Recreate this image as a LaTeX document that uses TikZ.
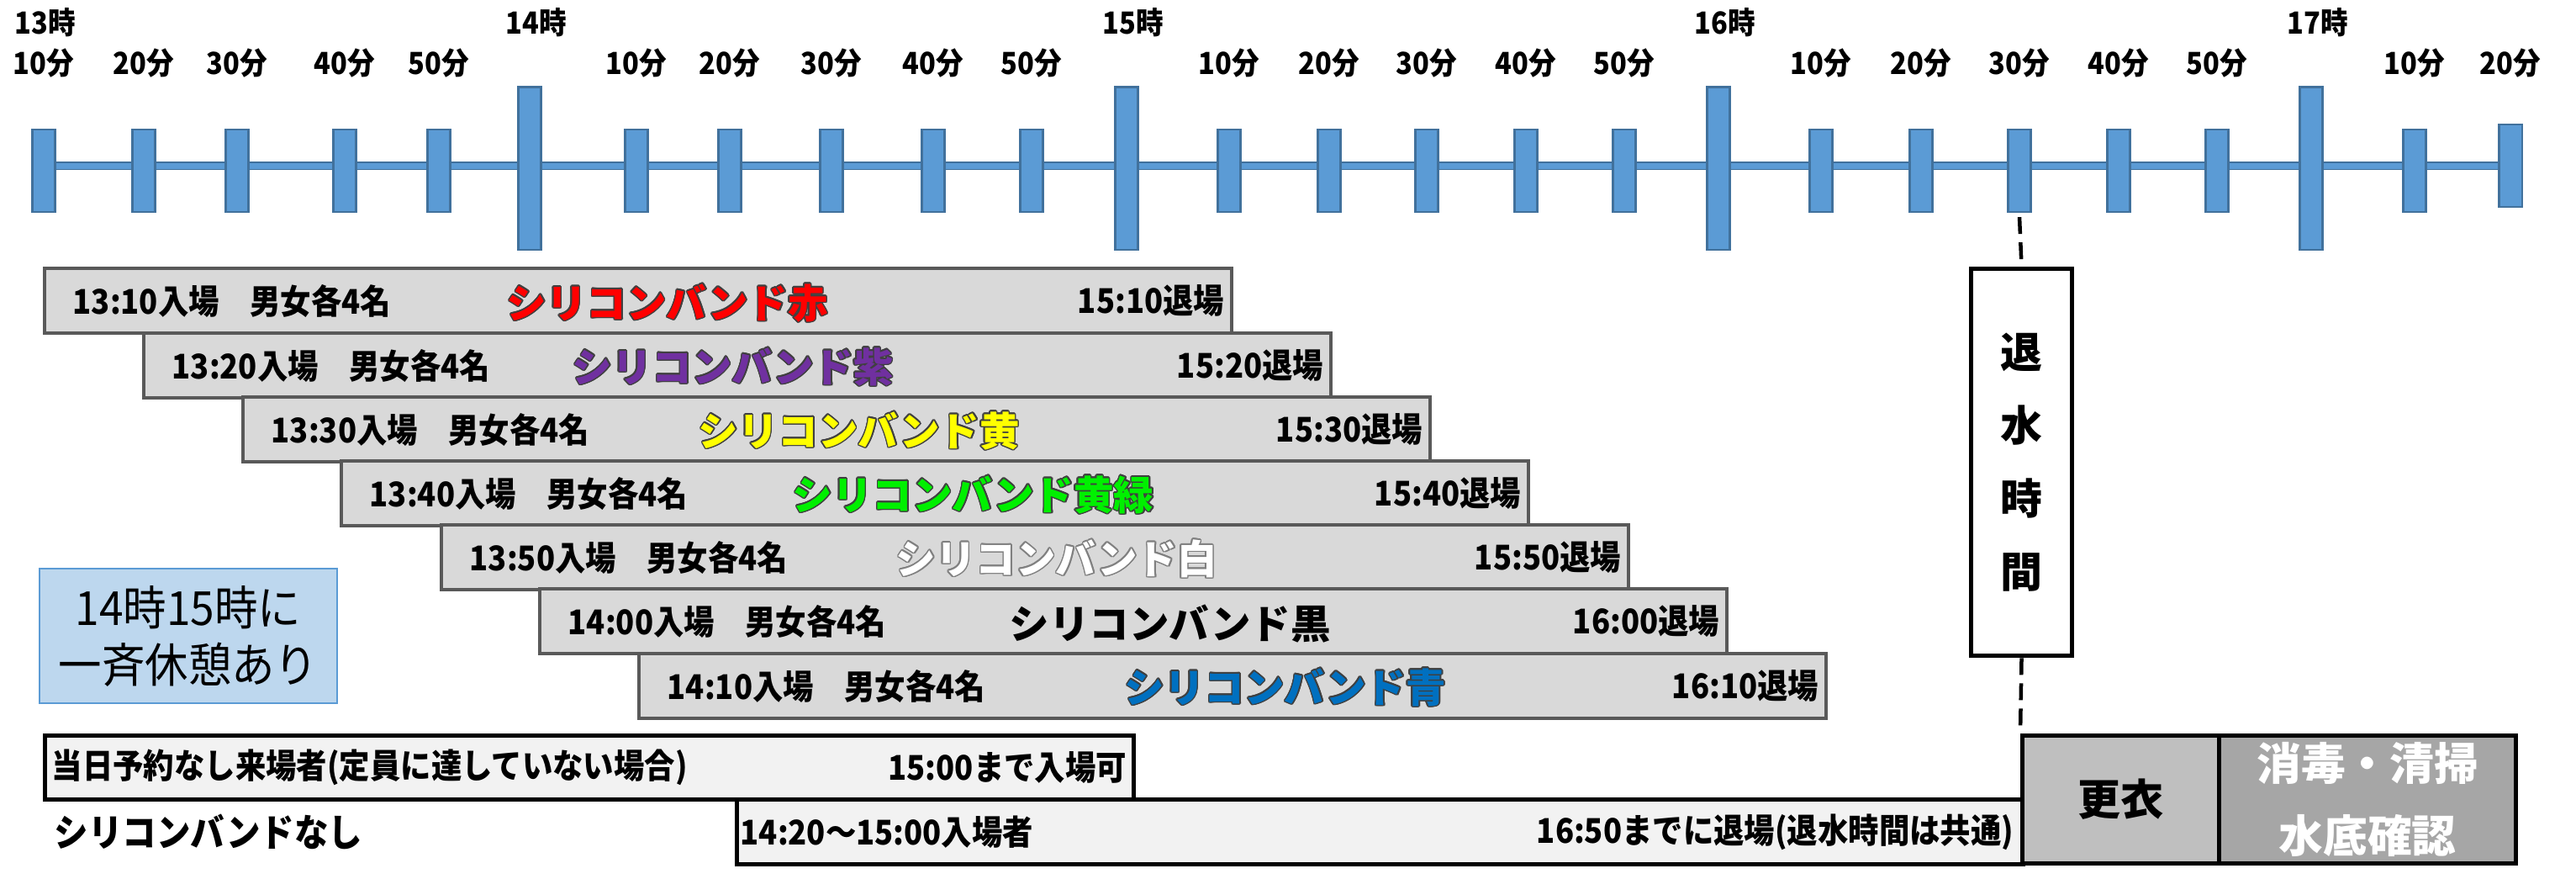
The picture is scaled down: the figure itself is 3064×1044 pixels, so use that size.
\documentclass[tikz,border=0pt]{standalone}
\usepackage{fontspec}
\setmainfont{Noto Sans CJK JP}
\newfontfamily\condfont{Noto Sans CJK JP}[FakeStretch=0.9]
\newfontfamily\restfont{Noto Sans CJK JP}[FakeStretch=0.92]
\usepackage[copies]{contour}
\contourlength{0.45pt}
\usetikzlibrary{backgrounds}
\definecolor{tickf}{HTML}{5B9BD5}
\definecolor{tickb}{HTML}{41719C}
\definecolor{bandf}{HTML}{D9D9D9}
\definecolor{bandb}{HTML}{595959}
\definecolor{lightf}{HTML}{F2F2F2}
\definecolor{kouif}{HTML}{BFBFBF}
\definecolor{shodf}{HTML}{A6A6A6}
\definecolor{restf}{HTML}{BDD7EE}
\definecolor{restb}{HTML}{5B9BD5}
\definecolor{cred}{HTML}{FF0000}
\definecolor{cpurple}{HTML}{7030A0}
\definecolor{cyellow}{HTML}{FFFF00}
\definecolor{cgreen}{HTML}{00F000}
\definecolor{cblue}{HTML}{0070C0}
\definecolor{outl}{HTML}{404040}
\definecolor{outw}{HTML}{808080}
\begin{document}
\begin{tikzpicture}[x=0.01cm,y=-0.01cm,
  smalltick/.style={draw=tickb, fill=tickf, line width=0.6pt, minimum width=0.27cm, minimum height=0.98cm, inner sep=0pt},
  bigtick/.style={smalltick, minimum height=1.93cm},
  timelab/.style={font=\condfont\bfseries\fontsize{10.3}{12}\selectfont, inner sep=0pt},
  timebar/.style={draw=tickb, line width=0.015cm, double=tickf, double distance=0.07cm},
  band/.style={draw=bandb, fill=bandf, line width=0.04cm, minimum width=14.11cm, minimum height=0.77cm, inner sep=0pt, anchor=north west},
  btext/.style={font=\condfont\bfseries\fontsize{11.5}{13}\selectfont, inner sep=0pt},
  bname/.style={font=\bfseries\fontsize{13.5}{15}\selectfont, inner sep=0pt, anchor=west},
  blackbox/.style={draw=black, line width=0.05cm, inner sep=0pt, anchor=north west},
  dashline/.style={line width=0.045cm, dash pattern=on 0.2cm off 0.1cm}
]
\useasboundingbox (0,0) rectangle (3064,1044);

% ---- time axis ----
\coordinate (bary) at (0,197);
\foreach \x/\n/\m in {52/1310/10,171/1320/20,282/1330/30,410/1340/40,522/1350/50,
  757/1410/10,868/1420/20,989/1430/30,1110/1440/40,1227/1450/50,
  1462/1510/10,1581/1520/20,1697/1530/30,1815/1540/40,1932/1550/50,
  2166/1610/10,2285/1620/20,2402/1630/30,2520/1640/40,2637/1650/50,2872/1710/10}{
  \node[smalltick] (t\n) at (\x,203) {};
  \node[timelab] (l\n) at (\x,75) {\m{}分};
}
\node[smalltick] (t1720) at (2986,197) {};
\node[timelab] (l1720) at (2986,75) {20分};
\foreach \x/\h in {630/14,1340/15,2044/16,2749/17}{
  \node[bigtick] (t\h00) at (\x,200) {};
  \node[timelab] (h\h) at ({\x+8},27) {\h{}時};
}
\node[timelab] (h13) at (54,27) {13時};
\begin{scope}[on background layer]
  \draw[timebar] (t1310 |- bary) -- (t1720 |- bary);
\end{scope}

% ---- bands ----
\foreach \n/\x/\y/\s/\e in {1/51/317/13:10/15:10, 2/169/394/13:20/15:20, 3/287/470/13:30/15:30,
  4/404/546/13:40/15:40, 5/523/622/13:50/15:50, 6/640/698/14:00/16:00, 7/758/775/14:10/16:10}{
  \node[band] (b\n) at (\x,\y) {};
  \node[btext, anchor=west] (bs\n) at ([xshift=0.35cm]b\n.west) {\s{}入場　男女各4名};
  \node[btext, anchor=east] (be\n) at ([xshift=-0.1cm]b\n.east) {\e{}退場};
}
\node[bname, text=cred] (n1) at (602,361) {\contour{outl}{シリコンバンド赤}};
\node[bname, text=cpurple] (n2) at (680,437) {\contour{outl}{シリコンバンド紫}};
\node[bname, text=cyellow] (n3) at (830,513) {\contour{outl}{シリコンバンド黄}};
\node[bname, text=cgreen] (n4) at (942,589) {\contour{outl}{シリコンバンド黄緑}};
\node[bname, text=white] (n5) at (1065,665) {\contour{outw}{シリコンバンド白}};
\node[bname, text=black] (n6) at (1200,742) {シリコンバンド黒};
\node[bname, text=cblue] (n7) at (1337,818) {\contour{outl}{シリコンバンド青}};

% ---- break note ----
\node[draw=restb, fill=restf, line width=0.02cm, minimum width=3.54cm, minimum height=1.6cm,
  anchor=north west, align=center, inner sep=0pt,
  font=\restfont\fontsize{15.9}{19.3}\selectfont] (rest) at (46,675) {14時15時に\\一斉休憩あり};

% ---- no band ----
\node[blackbox, fill=lightf, minimum width=15.29cm, minimum height=0.77cm] (nb2) at (874,948) {};
\node[blackbox, fill=lightf, minimum width=12.94cm, minimum height=0.76cm] (nb1) at (51,872) {};
\node[btext, anchor=west] (nb1s) at ([xshift=0.1cm]nb1.west) {当日予約なし来場者(定員に達していない場合)};
\node[btext, anchor=east] (nb1e) at ([xshift=-0.1cm]nb1.east) {15:00まで入場可};
\node[btext, anchor=west] (nb2s) at ([xshift=0.06cm]nb2.west) {14:20〜15:00入場者};
\node[btext, anchor=east] (nb2e) at ([xshift=-0.13cm]nb2.east) {16:50までに退場(退水時間は共通)};
\node[font=\condfont\bfseries\fontsize{12.8}{14}\selectfont, inner sep=0pt, anchor=west] (nolab) at (64,989) {シリコンバンドなし};

% ---- exit water / changing / cleaning ----
\node[blackbox, fill=white, minimum width=1.2cm, minimum height=4.6cm, align=center,
  font=\bfseries\fontsize{14.2}{24.8}\selectfont] (tw) at (2342,317) {退\\水\\時\\間};
\node[blackbox, fill=kouif, minimum width=2.34cm, minimum height=1.52cm,
  font=\bfseries\fontsize{14.5}{16}\selectfont] (koui) at (2403,872) {更衣};
\node[blackbox, fill=shodf, minimum width=3.53cm, minimum height=1.52cm, align=center, text=white,
  font=\bfseries\fontsize{15}{24.5}\selectfont] (shodoku) at (2637,872) {消毒・清掃\\水底確認};
\draw[dashline] ([yshift=-0.05cm]t1630.south) -- (tw.north);
\draw[dashline] (tw.south) -- (koui.north west);
\end{tikzpicture}
\end{document}
